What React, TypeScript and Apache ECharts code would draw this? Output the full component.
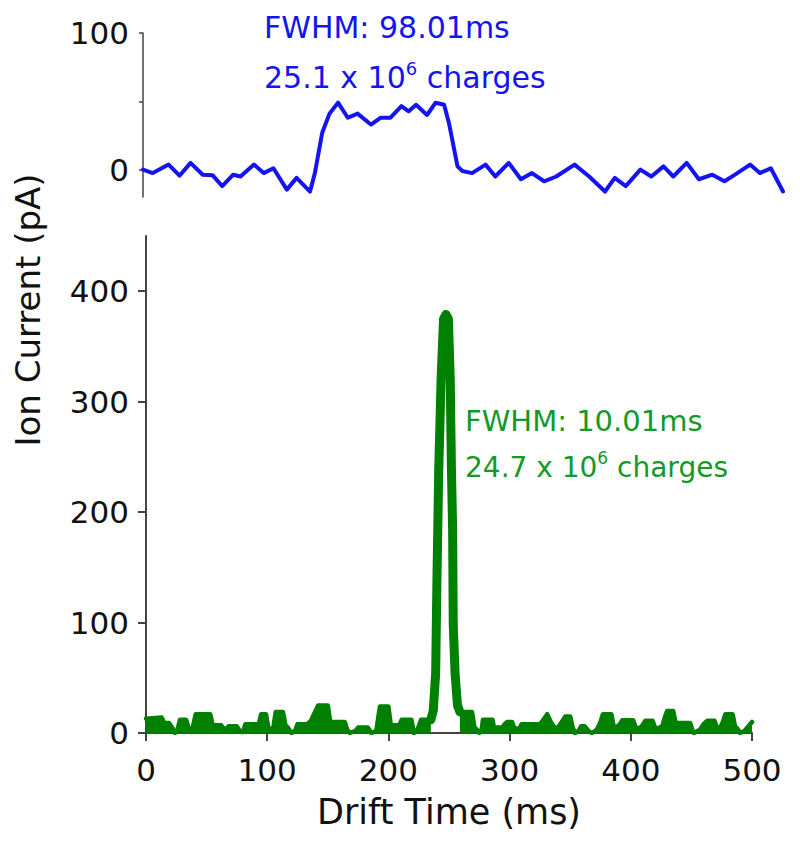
import React, { useEffect, useRef } from 'react';
import * as echarts from 'echarts';

// Top panel (blue): drift time (ms) and ion current (pA)
const blueTime = [0, 8, 21, 30, 39, 49, 57, 65, 74, 80, 91, 99, 107, 118, 126, 137, 141, 147, 153, 160, 168, 176, 187, 195, 203, 212, 218, 224, 233, 240, 247, 251, 258, 262, 270, 281, 289, 300, 310, 319, 329, 339, 354, 366, 379, 387, 396, 408, 417, 427, 435, 446, 456, 467, 477, 485, 498, 506, 515, 525];
const blueCurrent = [0, -2.5, 3.7, -4.4, 5, -3.7, -4, -12, -3.7, -5, 3.7, -2.5, 1, -14.6, -6, -16, -2.5, 27, 41, 49, 38, 41, 33, 38, 38, 46.5, 42.7, 47.5, 40, 49, 47.5, 34, 2.4, -1, -2.5, 3.7, -5, 5, -7, -2.5, -8.5, -5, 3.7, -5, -16, -6, -12, 0, -5, 2.4, -5, 5, -7, -3.7, -8.5, -4, 3.7, -2.5, 1, -16];

// Bottom panel (green): baseline noise before / after the peak
const greenNoiseTimeA = [0, 13, 15, 19, 22, 24, 26, 28, 33, 36, 38, 41, 53, 55, 62, 64, 67, 68, 75, 78, 80, 82, 93, 95, 99, 101, 105, 107, 113, 115, 117, 120, 123, 125, 133, 136, 142, 150, 152, 164, 166, 168, 173, 175, 183, 186, 190, 193, 200, 202, 209, 211, 219, 221, 224, 227, 235];
const greenNoiseA = [13, 14, 9, 9, 4, 0, 3, 12, 12, 2, 2, 17, 17, 7, 7, 4, 4, 6, 6, 1, 1, 8, 8, 17, 17, 4, 4, 19, 19, 7, 5, 0, 2, 8, 8, 11, 25, 25, 10, 10, 3, 0, 2, 5, 5, 0, 2, 24, 24, 7, 7, 12, 12, 0, 3, 12, 12];
const greenNoiseTimeB = [259, 269, 271, 273, 275, 277, 278, 286, 287, 294, 296, 298, 302, 304, 308, 310, 325, 328, 331, 334, 337, 340, 343, 346, 350, 352, 354, 357, 359, 362, 366, 368, 372, 375, 377, 384, 386, 388, 391, 393, 402, 404, 406, 409, 412, 418, 420, 422, 426, 428, 430, 435, 437, 449, 451, 452, 457, 460, 463, 469, 471, 474, 476, 478, 484, 486, 488, 490, 494, 497, 500];
const greenNoiseB = [19, 19, 5, 3, 0, 3, 12, 12, 5, 5, 8, 10, 10, 4, 4, 8, 8, 12, 17, 10, 5, 5, 10, 15, 15, 5, 0, 2, 6, 6, 1, 0, 3, 10, 17, 17, 5, 5, 8, 11.5, 11.5, 5, 4, 6, 11, 11, 5, 4, 6, 14, 20, 20, 9, 9, 2, 0, 3, 8, 11, 11, 5, 5, 10, 17, 17, 6, 4, 0, 2, 6, 10];
// The peak itself
const greenPeakTime = [235, 237, 239, 240, 241.5, 243.5, 245.5, 247.5, 249.5, 251, 252, 253, 253.5, 255, 257, 259];
const greenPeak = [12, 20, 54, 135, 237, 321, 375, 379, 375, 321, 240, 183, 99, 54, 25, 19];

const xTicksBottom = [0, 100, 200, 300, 400, 500];
const yTicksTop = [0, 50, 100];
const yLabelsTop = [0, 100];
const yTicksBottom = [0, 100, 200, 300, 400];

const FONT = 'DejaVu Sans';
const BLUE = '#1414f0';
const GREEN = '#008000';
const GREEN_TEXT = '#129a26';
const AXIS = '#444';

const zip = (xs: number[], ys: number[]) => xs.map((x, i) => [x, ys[i]]);

export default function App() {
  const ref = useRef<HTMLDivElement>(null);
  useEffect(() => {
    document.body.style.margin = '0';
    const chart = echarts.init(ref.current!, null, { renderer: 'svg' });
    const noiseData: any[] = [...zip(greenNoiseTimeA, greenNoiseA), [247, '-'], ...zip(greenNoiseTimeB, greenNoiseB)];
    chart.setOption({
      animation: false,
      backgroundColor: '#fff',
      grid: [
        { left: 143, top: 33, width: 640, height: 164 },
        { left: 146, top: 236, width: 606, height: 497 },
      ],
      xAxis: [
        { gridIndex: 0, type: 'value', min: 0, max: 525, show: false },
        {
          gridIndex: 1, type: 'value', min: 0, max: 500, interval: 100,
          axisLine: { lineStyle: { color: AXIS, width: 2 } },
          axisTick: { length: 8, lineStyle: { color: AXIS, width: 2 }, customValues: xTicksBottom },
          axisLabel: { fontSize: 31, color: '#111', fontFamily: FONT, margin: 21, customValues: xTicksBottom },
          splitLine: { show: false },
          name: 'Drift Time (ms)', nameLocation: 'middle', nameGap: 61,
          nameTextStyle: { fontSize: 35, color: '#111', fontFamily: FONT },
        },
      ],
      yAxis: [
        {
          gridIndex: 0, type: 'value', min: -20, max: 100,
          axisLine: { show: true, lineStyle: { color: AXIS, width: 1.5 } },
          axisTick: { show: true, length: 4, lineStyle: { color: AXIS, width: 1.5 }, customValues: yTicksTop },
          axisLabel: { fontSize: 31, color: '#111', fontFamily: FONT, margin: 14, padding: [0, 0, 12, 0], customValues: yLabelsTop },
          splitLine: { show: false },
        },
        {
          gridIndex: 1, type: 'value', min: 0, max: 450,
          axisLine: { show: true, lineStyle: { color: AXIS, width: 2 } },
          axisTick: { show: true, length: 8, lineStyle: { color: AXIS, width: 2 }, customValues: yTicksBottom },
          axisLabel: { fontSize: 31, color: '#111', fontFamily: FONT, margin: 17, customValues: yTicksBottom },
          splitLine: { show: false },
        },
      ],
      series: [
        {
          type: 'line', xAxisIndex: 0, yAxisIndex: 0, showSymbol: false,
          data: zip(blueTime, blueCurrent),
          lineStyle: { color: BLUE, width: 4, join: 'round', cap: 'round' },
        },
        {
          type: 'line', xAxisIndex: 1, yAxisIndex: 1, showSymbol: false, connectNulls: false,
          data: noiseData,
          lineStyle: { color: GREEN, width: 4.5, join: 'round', cap: 'round' },
          areaStyle: { color: GREEN, opacity: 1 },
        },
        {
          type: 'line', xAxisIndex: 1, yAxisIndex: 1, showSymbol: false,
          data: zip(greenPeakTime, greenPeak),
          lineStyle: { color: GREEN, width: 9, join: 'round', cap: 'round' },
        },
      ],
      graphic: [
        {
          type: 'text', x: 28, y: 310, rotation: Math.PI / 2,
          style: { text: 'Ion Current (pA)', fontSize: 34, fontFamily: FONT, fill: '#111', align: 'center', verticalAlign: 'middle' },
        },
        {
          type: 'text', x: 264, y: 27,
          style: { text: 'FWHM: 98.01ms', fontSize: 30, fontFamily: FONT, fill: BLUE, align: 'left', verticalAlign: 'middle' },
        },
        {
          type: 'text', x: 264, y: 77,
          style: {
            text: '25.1 x 10{s|6} charges', fontSize: 30, fontFamily: FONT, fill: BLUE, align: 'left', verticalAlign: 'middle',
            rich: { s: { fontSize: 18, fontFamily: FONT, fill: BLUE, verticalAlign: 'top', lineHeight: 36 } },
          },
        },
        {
          type: 'text', x: 465, y: 421,
          style: { text: 'FWHM: 10.01ms', fontSize: 29, fontFamily: FONT, fill: GREEN_TEXT, align: 'left', verticalAlign: 'middle' },
        },
        {
          type: 'text', x: 465, y: 467,
          style: {
            text: '24.7 x 10{s|6} charges', fontSize: 28, fontFamily: FONT, fill: GREEN_TEXT, align: 'left', verticalAlign: 'middle',
            rich: { s: { fontSize: 17, fontFamily: FONT, fill: GREEN_TEXT, verticalAlign: 'top', lineHeight: 35 } },
          },
        },
      ],
    });
    return () => chart.dispose();
  }, []);
  return <div ref={ref} style={{ width: 800, height: 852 }} />;
}
